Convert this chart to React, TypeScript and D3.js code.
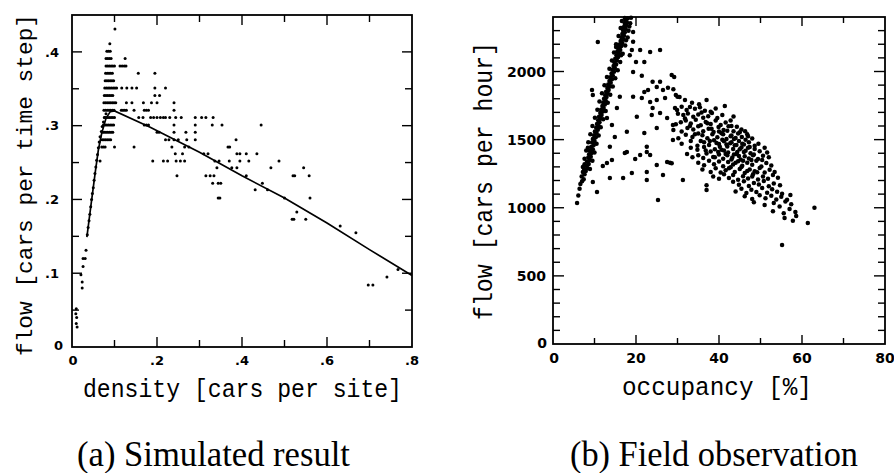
import React from "react";
import * as d3 from "d3";

// ---------- (a) Simulated result : density vs flow ----------
// rows of simulated points: [flow, densities at that flow]
const simRows: [number, number[]][] = [
  [0.431, [0.101]],
  [0.411, [0.089]],
  [0.401, [0.082, 0.086, 0.09]],
  [0.391, [0.08, 0.084, 0.088, 0.092, 0.125]],
  [0.381, [0.08, 0.084, 0.088, 0.092, 0.096, 0.1, 0.113, 0.118, 0.123, 0.127]],
  [0.371, [0.079, 0.083, 0.087, 0.091, 0.095, 0.156, 0.195]],
  [0.361, [0.078, 0.082, 0.086, 0.09, 0.094, 0.098]],
  [0.351, [0.077, 0.081, 0.085, 0.089, 0.093, 0.097, 0.101, 0.105, 0.117, 0.129, 0.141, 0.152, 0.195, 0.22]],
  [0.341, [0.076, 0.08, 0.084, 0.088, 0.092, 0.096, 0.195, 0.206]],
  [0.331, [0.075, 0.079, 0.083, 0.087, 0.091, 0.095, 0.099, 0.103, 0.128, 0.141, 0.168, 0.187, 0.2, 0.24]],
  [0.321, [0.075, 0.079, 0.083, 0.087, 0.091, 0.095, 0.099, 0.116, 0.12, 0.124, 0.128, 0.146, 0.17, 0.175, 0.18, 0.24]],
  [0.311, [0.076, 0.08, 0.084, 0.088, 0.092, 0.096, 0.1, 0.157, 0.167, 0.185, 0.192, 0.2, 0.208, 0.215, 0.22, 0.23, 0.244, 0.257, 0.29, 0.305, 0.315, 0.332]],
  [0.301, [0.074, 0.078, 0.082, 0.086, 0.09, 0.094, 0.098, 0.17, 0.175, 0.18, 0.24, 0.29, 0.33, 0.353, 0.445]],
  [0.291, [0.072, 0.076, 0.08, 0.084, 0.088, 0.092, 0.096, 0.2, 0.205, 0.24, 0.268, 0.29]],
  [0.281, [0.071, 0.075, 0.079, 0.083, 0.087, 0.091, 0.22, 0.228, 0.24, 0.25, 0.27, 0.29, 0.386]],
  [0.271, [0.07, 0.074, 0.078, 0.1, 0.146, 0.235, 0.265, 0.275, 0.367, 0.371]],
  [0.262, [0.243, 0.26, 0.31, 0.32, 0.388, 0.395, 0.41, 0.435]],
  [0.252, [0.066, 0.19, 0.215, 0.225, 0.245, 0.255, 0.265, 0.336, 0.346, 0.37, 0.395, 0.416, 0.487]],
  [0.243, [0.341, 0.376, 0.388, 0.468, 0.545]],
  [0.232, [0.247, 0.315, 0.325, 0.334, 0.41, 0.52, 0.524, 0.558]],
  [0.222, [0.331, 0.344, 0.35, 0.448]],
  [0.213, [0.431, 0.46]],
  [0.202, [0.344, 0.348, 0.5, 0.56]],
  [0.183, [0.529]],
  [0.173, [0.518, 0.522, 0.55]],
  [0.164, [0.631]],
  [0.155, [0.668]],
  [0.105, [0.767]],
  [0.095, [0.741]],
  [0.084, [0.697, 0.708]],
];

// points on the free-flow branch and at very low density: [density, flow]
const simFreeFlow: [number, number][] = [
  [0.036, 0.152], [0.038, 0.162], [0.04, 0.171], [0.042, 0.18], [0.044, 0.19],
  [0.046, 0.2], [0.048, 0.208], [0.05, 0.216], [0.052, 0.226], [0.054, 0.235],
  [0.056, 0.244], [0.058, 0.253], [0.06, 0.261], [0.062, 0.27], [0.064, 0.278],
  [0.066, 0.285], [0.069, 0.292], [0.071, 0.299], [0.074, 0.305], [0.077, 0.311],
  [0.08, 0.316],
  [0.033, 0.131], [0.026, 0.12], [0.031, 0.12], [0.026, 0.109], [0.021, 0.098],
  [0.024, 0.088], [0.024, 0.08], [0.01, 0.052], [0.009, 0.045], [0.011, 0.04],
  [0.01, 0.032], [0.012, 0.027],
];

// average (theoretical) curve: [density, flow]
const simCurve: [number, number][] = [
  [0.035, 0.149], [0.045, 0.194], [0.055, 0.238], [0.062, 0.267], [0.07, 0.29],
  [0.08, 0.31], [0.09, 0.319], [0.1, 0.32], [0.184, 0.298], [0.3, 0.264],
  [0.4, 0.232], [0.5, 0.202], [0.6, 0.168], [0.7, 0.132], [0.8, 0.097],
];

const aXTicks = [0, 0.2, 0.4, 0.6, 0.8];
const aXLabels = ["0", ".2", ".4", ".6", ".8"];
const aYTicks = [0, 0.1, 0.2, 0.3, 0.4];
const aYLabels = ["0", ".1", ".2", ".3", ".4"];

// ---------- (b) Field observation : occupancy vs flow ----------
const obsFreeFlow: [number, number][] = [
  [5.8, 1035], [6.1, 1090], [6.4, 1140], [6.6, 1175], [7.0, 1195], [7.4, 1210], [6.9, 1230],
  [7.6, 1245], [7.2, 1262], [7.9, 1270], [7.5, 1285], [8.3, 1292], [8.0, 1310], [8.6, 1322],
  [8.2, 1340], [8.8, 1350], [8.5, 1368], [9.1, 1375], [8.7, 1392], [9.3, 1402], [8.9, 1418],
  [9.6, 1430], [9.2, 1445], [9.8, 1460], [9.4, 1478], [10.0, 1490], [9.6, 1505], [10.3, 1518],
  [9.9, 1532], [10.5, 1548], [10.1, 1560], [10.8, 1572], [10.4, 1588], [11.0, 1600], [10.6, 1615],
  [11.2, 1628], [10.9, 1642], [11.5, 1655], [11.1, 1668], [11.7, 1680], [11.4, 1695], [12.0, 1706],
  [11.6, 1720], [12.2, 1732], [11.9, 1746], [12.5, 1758], [12.1, 1772], [12.7, 1785], [12.3, 1800],
  [12.9, 1812], [12.6, 1826], [13.2, 1838], [12.8, 1852], [13.4, 1865], [13.1, 1878], [13.7, 1890],
  [13.3, 1905], [13.9, 1918], [13.6, 1930], [14.2, 1944], [13.8, 1958], [14.4, 1970], [14.1, 1985],
  [14.7, 1998], [14.3, 2012], [14.9, 2025], [14.6, 2040], [15.2, 2052], [14.8, 2066], [15.4, 2080],
  [15.0, 2094], [15.7, 2106], [15.3, 2120], [15.9, 2132], [15.5, 2146], [16.2, 2158], [15.8, 2172],
  [16.4, 2185], [16.0, 2198], [16.7, 2210], [16.3, 2224], [16.9, 2236], [16.5, 2250], [17.1, 2262],
  [16.7, 2276], [17.3, 2288], [16.9, 2300], [17.5, 2312], [17.1, 2326], [17.7, 2338], [17.3, 2350],
  [17.8, 2362], [17.5, 2375], [18.0, 2390], [17.3, 2393], [18.6, 2355], [19.3, 2290], [19.3, 2218],
  [16.6, 2320], [15.2, 2180], [16.4, 2120], [17.6, 2230], [18.2, 2300], [7.6, 1320], [8.4, 1440],
  // band edges
  [7.2, 1300], [8.9, 1285], [7.6, 1360], [9.5, 1345], [8.0, 1420], [10.0, 1405], [8.5, 1480],
  [10.5, 1470], [9.0, 1540], [11.0, 1530], [9.5, 1600], [11.5, 1590], [10.1, 1660], [12.1, 1650],
  [10.7, 1720], [12.7, 1710], [11.2, 1780], [13.2, 1770], [11.8, 1840], [13.8, 1830], [12.4, 1900],
  [14.4, 1890], [13.0, 1960], [15.0, 1950], [13.6, 2020], [15.6, 2010], [14.2, 2080], [16.2, 2070],
  [14.7, 2140], [16.8, 2130], [15.2, 2200], [17.4, 2190], [15.8, 2260], [18.0, 2250], [16.3, 2320],
  [18.4, 2330], [16.6, 2370], [18.8, 2395],
];

const obsScatter: [number, number][] = [
  [10.8, 2217], [15.7, 2173], [19.0, 2158], [21.0, 2158], [23.4, 2144], [25.8, 2158], [18.5, 2120],
  [20.0, 2070], [22.0, 2070], [19.3, 1997], [21.4, 1968], [24.0, 1924], [25.8, 1924], [9.4, 1865],
  [9.6, 1828], [16.1, 1814], [19.3, 1814], [21.4, 1806], [22.0, 1850], [22.9, 1865], [25.0, 1887],
  [26.5, 1865], [27.7, 1880], [23.4, 1777], [25.0, 1791], [30.0, 1814], [27.0, 1806], [24.0, 1733],
  [15.4, 1733], [13.0, 1659], [14.2, 1608], [14.9, 1520], [22.0, 1549], [23.8, 1681], [25.8, 1696],
  [25.0, 1586], [28.9, 1608], [22.6, 1447], [13.7, 1447], [20.2, 1667], [27.5, 1659], [29.9, 1718],
  [17.8, 1557], [28.9, 1498], [25.3, 1057], [10.6, 1116], [13.7, 1219], [16.9, 1219], [19.0, 1255],
  [22.6, 1204], [22.6, 1263], [25.0, 1314], [26.5, 1241], [27.5, 1336], [28.2, 1330], [19.8, 1358],
  [17.3, 1402], [12.0, 1307], [13.0, 1329], [9.6, 1189], [14.2, 1350], [23.4, 1388], [17.8, 1410],
  [21.0, 1388], [22.6, 1410],
];

const obsCongested: [number, number][] = [
  [28.6, 1974], [29.2, 1960], [29.0, 1869], [29.6, 1828], [30.5, 1812], [31.8, 1791], [33.5, 1770],
  [37.0, 1791], [35.2, 1760],
  [29.4, 1732], [31.0, 1742], [32.2, 1718], [33.0, 1740], [34.2, 1726], [35.4, 1738], [36.6, 1712],
  [38.0, 1705], [41.4, 1747], [39.2, 1728],
  [30.1, 1690], [31.4, 1680], [32.5, 1692], [33.8, 1668], [35.0, 1685], [36.2, 1660], [37.4, 1672],
  [38.3, 1696], [39.6, 1658], [40.8, 1680], [43.5, 1670],
  [29.6, 1612], [30.8, 1628], [32.0, 1640], [33.2, 1618], [34.4, 1645], [35.6, 1605], [36.8, 1630],
  [38.0, 1615], [39.2, 1640], [40.4, 1608], [41.6, 1625], [42.8, 1640],
  [29.0, 1570], [31.0, 1560], [32.4, 1585], [33.8, 1575], [35.0, 1598], [36.2, 1562], [37.5, 1580],
  [38.7, 1556], [39.9, 1592], [41.1, 1570], [42.3, 1598], [43.5, 1562], [44.3, 1594], [45.4, 1575],
  [46.3, 1562],
  [30.2, 1510], [32.0, 1535], [33.6, 1520], [35.0, 1545], [36.0, 1532], [37.2, 1510], [38.4, 1540],
  [39.6, 1518], [40.6, 1546], [41.8, 1505], [43.0, 1530], [44.0, 1512], [45.5, 1520], [46.8, 1540],
  [48.0, 1508],
  [31.0, 1470], [33.2, 1490], [34.8, 1455], [36.4, 1480], [37.6, 1460], [38.8, 1495], [40.0, 1468],
  [41.2, 1488], [42.7, 1474], [43.8, 1458], [44.8, 1490], [46.0, 1465], [47.2, 1480], [48.6, 1455],
  [49.5, 1470],
  [33.2, 1440], [34.8, 1425], [36.4, 1445], [38.0, 1412], [39.0, 1430], [40.2, 1448], [41.2, 1420],
  [42.2, 1405], [43.4, 1432], [44.4, 1410], [45.4, 1442], [46.4, 1418], [47.6, 1400], [48.6, 1432],
  [49.8, 1415], [51.0, 1440], [51.6, 1405],
  [32.3, 1395], [33.6, 1370], [35.0, 1385], [36.2, 1365], [37.0, 1398], [38.6, 1372], [40.0, 1390],
  [41.0, 1360], [42.0, 1385], [43.2, 1368], [44.2, 1395], [45.2, 1355], [46.2, 1378], [47.2, 1362],
  [48.4, 1390], [49.4, 1358], [50.6, 1382], [52.0, 1370],
  [28.6, 1326], [35.0, 1330], [36.4, 1312], [37.6, 1345], [38.8, 1320], [40.0, 1340], [41.0, 1305],
  [42.2, 1335], [43.4, 1318], [44.6, 1342], [45.6, 1308], [46.8, 1330], [48.0, 1315], [49.0, 1345],
  [50.2, 1302], [51.4, 1328], [52.6, 1310],
  [36.0, 1280], [38.0, 1262], [39.2, 1290], [40.4, 1258], [41.6, 1275], [42.8, 1298], [43.8, 1262],
  [45.0, 1285], [46.2, 1255], [47.4, 1280], [48.6, 1268], [49.8, 1292], [51.0, 1258], [52.2, 1278],
  [53.4, 1262],
  [31.3, 1204], [38.6, 1230], [40.0, 1212], [41.2, 1245], [42.4, 1218], [43.4, 1240], [44.6, 1205],
  [45.8, 1232], [47.0, 1215], [48.2, 1246], [49.4, 1208], [50.6, 1230], [51.8, 1212], [53.0, 1240],
  [54.2, 1220],
  [37.0, 1165], [43.4, 1190], [44.8, 1168], [46.0, 1195], [47.2, 1160], [48.4, 1182], [49.6, 1170],
  [50.8, 1196], [52.0, 1158], [53.2, 1178], [54.7, 1165],
  [37.0, 1130], [44.0, 1120], [45.4, 1140], [46.6, 1108], [47.8, 1132], [49.0, 1115], [50.4, 1145],
  [51.6, 1110], [52.8, 1135], [54.0, 1118], [55.2, 1102],
  [46.2, 1085], [48.0, 1065], [49.8, 1092], [51.2, 1070], [52.6, 1088], [53.8, 1060], [55.0, 1080],
  [56.4, 1058], [57.2, 1094],
  [48.4, 1040], [51.0, 1020], [53.2, 1035], [54.6, 1010], [56.0, 1045], [57.4, 1025], [63.0, 1000],
  [53.0, 975], [55.6, 960], [57.0, 990], [58.4, 968], [55.8, 925], [57.8, 905], [58.6, 940],
  [61.4, 888], [55.2, 727],
  [40.8, 1500], [42.0, 1450], [43.0, 1480], [44.2, 1460], [45.0, 1430], [46.4, 1500], [43.6, 1390],
  [41.6, 1395], [45.6, 1470], [42.8, 1525], [44.6, 1545], [39.4, 1475], [47.0, 1440], [48.2, 1385],
  [43.0, 1355], [45.8, 1345], [47.8, 1350],
  [39.0, 1370], [40.6, 1425], [41.8, 1465], [43.6, 1505], [44.8, 1380], [46.0, 1410], [47.4, 1445],
  [42.4, 1290], [44.0, 1330], [45.4, 1300], [46.8, 1270], [48.0, 1230], [49.2, 1260], [50.4, 1350],
  [47.0, 1525], [45.0, 1555], [41.0, 1540], [39.8, 1410], [37.8, 1490], [36.8, 1420], [35.6, 1490],
  [34.2, 1540], [38.2, 1580], [40.0, 1560], [42.0, 1565], [43.0, 1600], [37.2, 1620], [35.8, 1700],
  [33.0, 1600], [31.8, 1655],
];

const bXTicks = [0, 20, 40, 60, 80];
const bXLabels = ["0", "20", "40", "60", "80"];
const bYTicks = [0, 500, 1000, 1500, 2000];
const bYLabels = ["0", "500", "1000", "1500", "2000"];

const MONO = "'Liberation Mono', 'DejaVu Sans Mono', monospace";
const TICKFONT = "'DejaVu Sans', sans-serif";
const SERIF = "'Liberation Serif', 'Times New Roman', serif";

type Scale = d3.ScaleLinear<number, number>;

function Frame({
  x, y, xMinor, yMinor, xMajorEvery, yMajorEvery, xLen, yLen,
}: {
  x: Scale; y: Scale; xMinor: number[]; yMinor: number[];
  xMajorEvery: number; yMajorEvery: number;
  xLen: [number, number]; yLen: [number, number];
}) {
  const [x0, x1] = x.range();
  const [y0, y1] = y.range();
  const isMajor = (v: number, every: number) => Math.abs(v / every - Math.round(v / every)) < 1e-6;
  return (
    <g stroke="#000" fill="none">
      <rect x={x0} y={y1} width={x1 - x0} height={y0 - y1} strokeWidth={1.8} />
      {xMinor.map((v, i) => {
        const L = isMajor(v, xMajorEvery) ? xLen[0] : xLen[1];
        const px = x(v);
        return (
          <g key={"xt" + i} strokeWidth={1.4}>
            <line x1={px} x2={px} y1={y0} y2={y0 - L} />
            <line x1={px} x2={px} y1={y1} y2={y1 + L} />
          </g>
        );
      })}
      {yMinor.map((v, i) => {
        const L = isMajor(v, yMajorEvery) ? yLen[0] : yLen[1];
        const py = y(v);
        return (
          <g key={"yt" + i} strokeWidth={1.4}>
            <line x1={x0} x2={x0 + L} y1={py} y2={py} />
            <line x1={x1} x2={x1 - L} y1={py} y2={py} />
          </g>
        );
      })}
    </g>
  );
}

export default function App() {
  // panel (a)
  const xA = d3.scaleLinear().domain([0, 0.8]).range([72, 412]);
  const yA = d3.scaleLinear().domain([0, 0.45]).range([347, 15]);
  // panel (b)
  const xB = d3.scaleLinear().domain([0, 80]).range([553, 885]);
  const yB = d3.scaleLinear().domain([0, 2400]).range([344, 17]);

  const simPoints: [number, number][] = [
    ...simRows.flatMap(([f, ds]) => ds.map((d) => [d, f] as [number, number])),
    ...simFreeFlow,
  ];
  const curvePath = d3
    .line<[number, number]>()
    .x((d) => xA(d[0]))
    .y((d) => yA(d[1]))(simCurve) as string;

  const obsPoints = [...obsFreeFlow, ...obsScatter, ...obsCongested];

  const aXMinor = xA.ticks(8).filter((v) => v > 0 && v < 0.8);
  const aYMinor = yA.ticks(9).filter((v) => v > 0 && v < 0.45);
  const bXMinor = xB.ticks(8).filter((v) => v > 0 && v < 80);
  const bYMinor = yB.ticks(24).filter((v) => v > 0 && v < 2400);

  return (
    <svg
      width={894}
      height={473}
      viewBox="0 0 894 473"
      style={{ position: "absolute", left: 0, top: 0, background: "#fff" }}
    >
      <rect x={0} y={0} width={894} height={473} fill="#fff" />

      {/* ---------- panel (a) ---------- */}
      <g>
        {simPoints.map((p, i) => (
          <circle key={"s" + i} cx={xA(p[0])} cy={yA(p[1])} r={1.5} fill="#000" />
        ))}
        <path d={curvePath} fill="none" stroke="#000" strokeWidth={1.7} />
        <Frame
          x={xA}
          y={yA}
          xMinor={aXMinor}
          yMinor={aYMinor}
          xMajorEvery={0.2}
          yMajorEvery={0.1}
          xLen={[10, 7]}
          yLen={[10, 7]}
        />
        {aXTicks.map((v, i) => (
          <text
            key={"axl" + i}
            x={xA(v) + (v === 0 ? 1 : 0)}
            y={365}
            textAnchor="middle"
            fontFamily={TICKFONT}
            fontWeight="bold"
            fontSize={13}
          >
            {aXLabels[i]}
          </text>
        ))}
        {aYTicks.map((v, i) => (
          <text
            key={"ayl" + i}
            x={v === 0 ? 63 : 59}
            y={yA(v) + (v === 0 ? -2 : 0)}
            dy="0.36em"
            textAnchor="end"
            fontFamily={TICKFONT}
            fontWeight="bold"
            fontSize={13}
          >
            {aYLabels[i]}
          </text>
        ))}
        <text
          x={83}
          y={397}
          fontFamily={MONO}
          fontSize={25}
          textLength={319}
          lengthAdjust="spacingAndGlyphs"
        >
          density [cars per site]
        </text>
        <text
          transform="translate(32,356) rotate(-90)"
          fontFamily={MONO}
          fontSize={22.5}
          textLength={342}
          lengthAdjust="spacingAndGlyphs"
        >
          flow [cars per time step]
        </text>
        <text x={77} y={466} fontFamily={SERIF} fontSize={35} textLength={273} lengthAdjust="spacingAndGlyphs">
          (a) Simulated result
        </text>
      </g>

      {/* ---------- panel (b) ---------- */}
      <g>
        {obsPoints.map((p, i) => (
          <circle key={"o" + i} cx={xB(p[0])} cy={yB(p[1])} r={2.25} fill="#000" />
        ))}
        <Frame
          x={xB}
          y={yB}
          xMinor={bXMinor}
          yMinor={bYMinor}
          xMajorEvery={20}
          yMajorEvery={500}
          xLen={[9, 6]}
          yLen={[11, 7]}
        />
        {bXTicks.map((v, i) => (
          <text
            key={"bxl" + i}
            x={xB(v) + (v === 0 ? 1 : 0)}
            y={363}
            textAnchor="middle"
            fontFamily={TICKFONT}
            fontWeight="bold"
            fontSize={14}
          >
            {bXLabels[i]}
          </text>
        ))}
        {bYTicks.map((v, i) => (
          <text
            key={"byl" + i}
            x={v === 0 ? 547 : 546}
            y={yB(v) + (v === 0 ? -1 : 0)}
            dy="0.36em"
            textAnchor="end"
            fontFamily={TICKFONT}
            fontWeight="bold"
            fontSize={14}
          >
            {bYLabels[i]}
          </text>
        ))}
        <text
          x={622}
          y={395}
          fontFamily={MONO}
          fontSize={25}
          textLength={190}
          lengthAdjust="spacingAndGlyphs"
        >
          occupancy [%]
        </text>
        <text
          transform="translate(492,320) rotate(-90)"
          fontFamily={MONO}
          fontSize={25}
          textLength={278}
          lengthAdjust="spacingAndGlyphs"
        >
          flow [cars per hour]
        </text>
        <text x={570} y={466} fontFamily={SERIF} fontSize={35} textLength={288} lengthAdjust="spacingAndGlyphs">
          (b) Field observation
        </text>
      </g>
    </svg>
  );
}
